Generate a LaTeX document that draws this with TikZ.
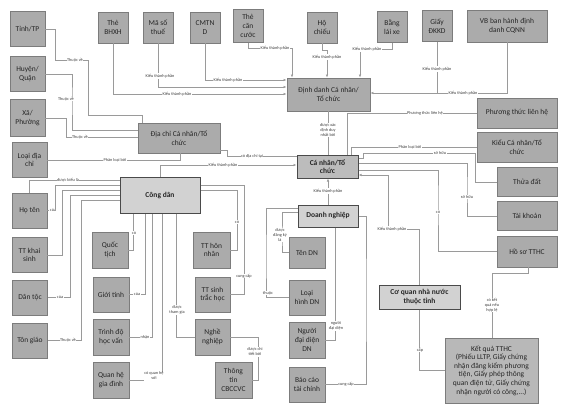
\documentclass[tikz,border=0pt]{standalone}
\usepackage{fontspec}
\setmainfont{Carlito}
\usepackage{tikz}
\usetikzlibrary{arrows.meta}
\definecolor{boxfill}{HTML}{ABABAB}
\definecolor{boxline}{HTML}{7C7C7C}
\definecolor{keyfill}{HTML}{D2D2D2}
\definecolor{keyline}{HTML}{4A4A4A}
\definecolor{linec}{HTML}{9A9A9A}
\definecolor{txt}{HTML}{262626}

\begin{document}
\begin{tikzpicture}[x=1pt,y=-1pt,
    box/.style={draw=boxline, fill=boxfill, line width=0.8pt, align=center, inner sep=1pt, text=txt, font=\fontsize{7.5}{8.6}\selectfont},
    sq/.style={box, minimum width=35pt, minimum height=35pt},
    tp/.style={box, minimum width=30pt, minimum height=31pt},
    wide/.style={box, minimum width=80pt, minimum height=30pt},
    side/.style={box, minimum width=60pt, minimum height=29pt},
    key/.style={box, fill=keyfill, draw=keyline, line width=1pt, font=\bfseries\fontsize{7.5}{8.6}\selectfont},
    ln/.style={draw=linec, line width=0.6pt},
    arr/.style={ln, -{Latex[length=3pt,width=2.4pt]}},
    lbl/.style={fill=white, inner sep=0.5pt, align=center, text=black!75, font=\fontsize{4.3}{5}\selectfont}]
    \useasboundingbox (0,0) rectangle (576,416);
    \fill[white] (0,0) rectangle (576,416);

    \node[sq] (tinh) at (27.5,29) {Tỉnh/TP};
    \node[sq] (huyen) at (27.5,74) {Huyện/\\Quận};
    \node[sq, minimum height=37pt] (xa) at (27.5,118) {Xã/\\Phường};
    \node[sq] (loaidc) at (29.5,160) {Loại địa\\chỉ};
    \node[sq] (hoten) at (29.5,210.5) {Họ tên};
    \node[sq] (ttks) at (29.5,255) {TT khai\\sinh};
    \node[sq] (dantoc) at (30,297.5) {Dân tộc};
    \node[sq] (tongiao) at (30,340.5) {Tôn giáo};

    \node[tp] (bhxh) at (113,27.5) {Thẻ\\BHXH};
    \node[tp] (mst) at (158,27.5) {Mã số\\thuế};
    \node[tp] (cmtnd) at (205,27.5) {CMTN\\D};
    \node[tp, minimum height=33pt] (tcc) at (248,26) {Thẻ\\căn\\cước};
    \node[tp] (hochieu) at (322,27.5) {Hộ\\chiếu};
    \node[tp] (banglai) at (392,27) {Bằng\\lái xe};
    \node[tp] (dkkd) at (437,26) {Giấy\\ĐKKD};
    \node[wide, minimum height=32pt] (vb) at (507,26) {VB ban hành định\\danh CQNN};
    \node[box, minimum width=83pt, minimum height=33pt] (dinhdanh) at (328.5,94.5) {Định danh Cá nhân/\\Tổ chức};

    \node[wide] (ptlh) at (517,113) {Phương thức liên hệ};
    \node[wide] (kieucn) at (517,147) {Kiểu Cá nhân/Tổ\\chức};
    \node[side] (thuadat) at (527,182) {Thửa đất};
    \node[side] (taikhoan) at (527,216) {Tài khoản};
    \node[side, minimum height=31pt] (hoso) at (527,251.5) {Hồ sơ TTHC};

    \node[box, minimum width=82pt, minimum height=30pt] (diachi) at (179,138) {Địa chỉ Cá nhân/Tổ\\chức};
    \node[key, minimum width=80pt, minimum height=36pt] (congdan) at (160,195) {Công dân};
    \node[key, fill=boxfill!80, minimum width=61pt, minimum height=23pt] (canhan) at (327.5,166.5) {Cá nhân/Tổ\\chức};
    \node[key, minimum width=60pt, minimum height=22pt] (dn) at (328,216) {Doanh nghiệp};

    \node[sq, minimum width=36pt, minimum height=36pt] (quoctich) at (110,250) {Quốc\\tịch};
    \node[sq, minimum width=36pt] (gioitinh) at (111,294.5) {Giới tính};
    \node[sq, minimum width=36pt, minimum height=36pt] (trinhdo) at (111,337) {Trình độ\\học vấn};
    \node[sq, minimum width=36pt, minimum height=36pt] (quanhe) at (111,380) {Quan hệ\\gia đình};
    \node[sq, minimum width=37pt, minimum height=36pt] (honnhan) at (211.5,250) {TT hôn\\nhân};
    \node[sq] (sinhtrac) at (212.5,294.5) {TT sinh\\trắc học};
    \node[sq, minimum height=36pt] (nghenghiep) at (212.5,337) {Nghề\\nghiệp};
    \node[sq, minimum width=37pt, minimum height=36pt] (cbccvc) at (233.5,380) {Thông\\tin\\CBCCVC};

    \node[sq, minimum width=36pt, minimum height=31pt] (tendn) at (307,252.5) {Tên DN};
    \node[sq, minimum width=36pt] (loaihinh) at (307,297.5) {Loại\\hình DN};
    \node[sq, minimum width=36pt, minimum height=36pt] (nguoidd) at (307,340) {Người\\đại diện\\DN};
    \node[sq, minimum width=36pt] (baocao) at (307,384.5) {Báo cáo\\tài chính};

    \node[key, minimum width=81pt, minimum height=24pt] (coquan) at (419.5,297) {Cơ quan nhà nước\\thuộc tỉnh};
    \node[box, fill=boxfill!85, minimum width=93pt, minimum height=65pt] (ketqua) at (491.5,370.5) {Kết quả TTHC\\(Phiếu LLTP, Giấy chứng\\nhận đăng kiểm phương\\tiện, Giấy phép thông\\quan điện tử, Giấy chứng\\nhận người có công,...)};

    \draw[arr] (bhxh.south) |- (dinhdanh.west |- 0,94);
    \draw[arr] (mst.south) |- (dinhdanh.west |- 0,87);
    \draw[arr] (cmtnd.south) |- (dinhdanh.west |- 0,80);
    \draw[arr] (tcc.south) |- (292,48) -- (292,0 |- dinhdanh.north);
    \draw[arr] (hochieu.south) |- (327,50) -- (327,0 |- dinhdanh.north);
    \draw[arr] (banglai.south) |- (360,49) -- (360,0 |- dinhdanh.north);
    \draw[arr] (dkkd.south) |- (dinhdanh.east |- 0,93);
    \draw[ln] (vb.south) |- (dkkd.south |- 0,93);
    \draw[ln] (dinhdanh.south) -- (dinhdanh.south |- canhan.north);
    \draw[ln] (ptlh.west) -| (347,0 |- canhan.north);
    \draw[ln] (kieucn.west) -| (351,0 |- canhan.north);
    \draw[ln] (canhan.east |- 0,158) -- (363,158) |- (475,153) |- (thuadat.west);
    \draw[ln] (canhan.east |- 0,163) -| (467,190) |- (taikhoan.west);
    \draw[ln] (canhan.east |- 0,170) -| (438,200) |- (hoso.west);
    \draw[arr] (coquan.north) |- (388,229) |- (canhan.east |- 0,175);
    \draw[arr] (dn.north) -- (dn.north |- canhan.south);
    \draw[ln] (dn.west |- 0,212) -| (282,240) |- (tendn.west);
    \draw[ln] (dn.west |- 0,208) -| (266,260) |- (loaihinh.west);
    \draw[ln] (335,0 |- dn.south) |- (nguoidd.east);
    \draw[ln] (dn.east) -| (366,300) |- (baocao.east);
    \draw[ln] (hoso.south -| 528,0) |- (492,273) -- (492,0 |- ketqua.north);
    \draw[ln] (coquan.south) |- (ketqua.west);

    \draw[ln] (tinh.east) -| (55,60) -| (88,115) -| (142,0 |- diachi.north);
    \draw[ln] (huyen.east) -| (72,100) |- (diachi.west |- 0,130);
    \draw[ln] (xa.east) -| (66,137) -- (diachi.west |- 0,137);
    \draw[ln] (loaidc.east) -| (180,0 |- diachi.south);
    \draw[arr] (160,0 |- congdan.north) |- (canhan.west |- 0,165);
    \draw[ln] (diachi.east |- 0,150) -| (227,156) -- (canhan.west |- 0,156);

    \draw[ln] (hoten.north) |- (congdan.west |- 0,180);
    \draw[ln] (hoten.east) -| (55,185) -- (congdan.west |- 0,185);
    \draw[ln] (ttks.east) -| (62,190) -- (congdan.west |- 0,190);
    \draw[ln] (dantoc.east) -| (70,195) -- (congdan.west |- 0,195);
    \draw[ln] (tongiao.east) -| (81,200) -- (congdan.west |- 0,200);
    \draw[ln] (quoctich.east) -| (133,0 |- congdan.south);
    \draw[ln] (gioitinh.east) -| (145,0 |- congdan.south);
    \draw[ln] (trinhdo.east) -| (152,0 |- congdan.south);
    \draw[ln] (quanhe.east) -| (162,0 |- congdan.south);
    \draw[ln] (176,0 |- congdan.south) |- (nghenghiep.west);
    \draw[ln] (congdan.east |- 0,190) -| (237,0 |- honnhan.east) -- (honnhan.east);
    \draw[ln] (congdan.east |- 0,185) -| (244,0 |- sinhtrac.east) -- (sinhtrac.east);
    \draw[ln] (nghenghiep.east) -| (258,0 |- cbccvc.east) -- (cbccvc.east);

    \node[lbl] (l1) at (160,76) {Kiểu thành phần};
    \node[lbl] (l2) at (177,94) {Kiểu thành phần};
    \node[lbl] (l3) at (228,80) {Kiểu thành phần};
    \node[lbl] (l4) at (275,48) {Kiểu thành phần};
    \node[lbl] (l5) at (327,57) {Kiểu thành phần};
    \node[lbl] (l6) at (367,49) {Kiểu thành phần};
    \node[lbl] (l7) at (437,69) {Kiểu thành phần};
    \node[lbl] (l8) at (463,93) {Kiểu thành phần};
    \node[lbl] (l9) at (328,130) {được xác\\định duy\\nhất bởi};
    \node[lbl] (l10) at (425,113) {Phương thức liên hệ};
    \node[lbl] (l11) at (410,147) {Phân loại bởi};
    \node[lbl] (l12) at (440,153) {sở hữu};
    \node[lbl] (l13) at (467,197) {sở hữu};
    \node[lbl] (l14) at (438,212) {có};
    \node[lbl] (l15) at (392,229) {Kiểu thành phần};
    \node[lbl] (l16) at (328,191) {Kiểu thành phần};
    \node[lbl] (l17) at (280,235) {được\\đăng ký\\là};
    \node[lbl] (l18) at (268,293) {thuộc};
    \node[lbl] (l19) at (336,326) {người\\đại diện};
    \node[lbl] (l20) at (346,384) {cung cấp};
    \node[lbl] (l21) at (492,305) {có kết\\quả nếu\\hợp lệ};
    \node[lbl] (l22) at (420,350) {cấp};
    \node[lbl] (l23) at (75,60) {Thuộc về};
    \node[lbl] (l24) at (66,99) {Thuộc về};
    \node[lbl] (l25) at (80,137) {Thuộc về};
    \node[lbl] (l26) at (115,160) {Phân loại bởi};
    \node[lbl] (l27) at (223,165) {Kiểu thành phần};
    \node[lbl] (l28) at (252,156) {có địa chỉ tại};
    \node[lbl] (l29) at (68,180) {được biểu là};
    \node[lbl] (l30) at (53,210.5) {của};
    \node[lbl] (l31) at (60,297.5) {của};
    \node[lbl] (l32) at (68,340.5) {Thuộc về};
    \node[lbl] (l33) at (134,233) {có};
    \node[lbl] (l34) at (137,294.5) {của};
    \node[lbl] (l35) at (145,337) {nhận};
    \node[lbl] (l36) at (154,376) {có quan hệ\\với};
    \node[lbl] (l37) at (177,310) {được\\tham gia};
    \node[lbl] (l38) at (237,222) {có};
    \node[lbl] (l39) at (244,276) {cung cấp};
    \node[lbl] (l40) at (255,352) {được chi\\tiết bởi};
\end{tikzpicture}
\end{document}
